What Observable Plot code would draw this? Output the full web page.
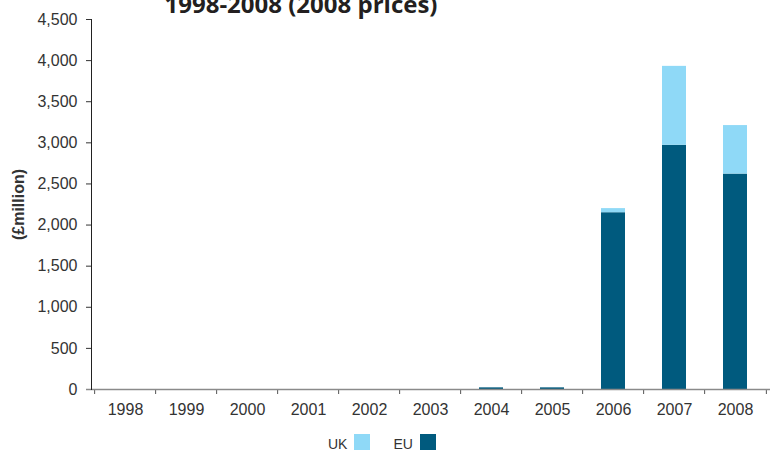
<!DOCTYPE html>
<html><head><meta charset="utf-8">
<script src="https://cdn.jsdelivr.net/npm/d3@7"></script>
<script src="https://cdn.jsdelivr.net/npm/@observablehq/plot@0.6"></script>
<style>
body{margin:0;background:#fff;font-family:"Liberation Sans",Arial,sans-serif;}
#wrap{position:relative;width:772px;height:456px;overflow:hidden;background:#fff;}
#chart{position:absolute;left:0;top:0;}
#title{position:absolute;left:0;width:602px;top:-8.3px;text-align:center;font:bold 24px/24px "Open Sans",sans-serif;color:#231f20;white-space:nowrap;}
#legend{position:absolute;top:434px;left:328px;display:flex;align-items:center;font:14px "Liberation Sans",Arial,sans-serif;color:#333;}
#legend .sw{width:16px;height:16px;display:inline-block;margin-left:7px;}
#legend .item{display:flex;align-items:flex-end;margin-right:23px;}
#legend .item span.t{line-height:16px;position:relative;top:2px;}
</style></head>
<body>
<div id="wrap">
  <div id="chart"></div>
  <div id="title">1998-2008 (2008 prices)</div>
  <div id="legend"></div>
</div>
<script>
const years = ["1998","1999","2000","2001","2002","2003","2004","2005","2006","2007","2008"];
const euValues = [0,0,0,0,0,0,20,20,2150,2970,2620];
const ukValues = [0,0,0,0,0,0,0,0,50,960,590];
const seriesNames = ["EU","UK"];
const seriesColors = ["#005a7e","#8fd9f7"];
const legendOrder = ["UK","EU"];
const yTicks = [0,500,1000,1500,2000,2500,3000,3500,4000,4500];
const yLabel = "(£million)";

const data = years.flatMap((yr, i) => [
  {year: yr, series: "EU", value: euValues[i]},
  {year: yr, series: "UK", value: ukValues[i]}
]);

const W = 772, H = 456, mL = 91, mR = 2, mT = 19, mB = 67;
const step = (W - mL - mR) / years.length;

const chart = Plot.plot({
  width: W, height: H,
  marginLeft: mL, marginRight: mR, marginTop: mT, marginBottom: mB,
  style: {fontFamily: "Liberation Sans, Arial, sans-serif", fontSize: "16px", color: "#333", background: "#fff"},
  x: {type: "band", domain: years, paddingInner: 0.6, paddingOuter: 0.3, label: null},
  y: {domain: [0, 4500], label: null},
  color: {domain: seriesNames, range: seriesColors},
  marks: [
    Plot.barY(data, {x: "year", y: "value", fill: "series"}),
    Plot.axisY({ticks: yTicks, tickFormat: d3.format(","), tickSize: 5, tickPadding: 9, stroke: "#333", label: null}),
    Plot.axisX({tickSize: 0, tickPadding: 14, label: null}),
    Plot.axisX({tickSize: 5, tickFormat: () => "", dx: -step / 2, stroke: "#555", label: null}),
    Plot.axisX({ticks: [years[years.length - 1]], tickSize: 5, tickFormat: () => "", dx: step / 2, stroke: "#555", label: null}),
    Plot.ruleY([0], {stroke: "#8a8a8a", strokeWidth: 1.5, insetLeft: -5}),
    Plot.frame({anchor: "left", stroke: "#222"}),
    Plot.text([yLabel], {frameAnchor: "left", textAnchor: "middle", dx: -72.5, rotate: -90, fontWeight: "bold", fontSize: 16, fill: "#333"})
  ]
});
document.getElementById("chart").appendChild(chart);

const leg = document.getElementById("legend");
legendOrder.forEach(name => {
  const it = document.createElement("div");
  it.className = "item";
  const t = document.createElement("span");
  t.className = "t";
  t.textContent = name;
  const sw = document.createElement("span");
  sw.className = "sw";
  sw.style.background = seriesColors[seriesNames.indexOf(name)];
  it.appendChild(t); it.appendChild(sw);
  leg.appendChild(it);
});
</script>
</body></html>
